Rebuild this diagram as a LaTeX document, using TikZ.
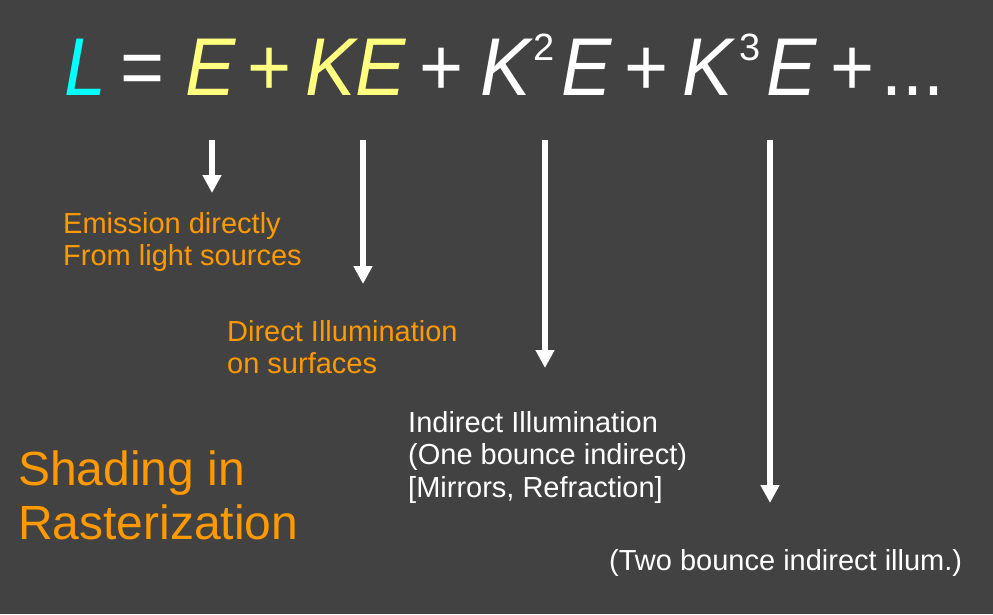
\documentclass[tikz,border=0pt]{standalone}
\usepackage{fontspec}
\setmainfont{Liberation Sans}
\usetikzlibrary{arrows.meta}
\definecolor{bgdark}{RGB}{66,66,66}
\definecolor{termcyan}{RGB}{0,255,255}
\definecolor{termyellow}{RGB}{255,255,128}
\definecolor{labelorange}{RGB}{255,153,0}
% equation glyphs are set slightly condensed
\newcommand{\eqglyph}[1]{\scalebox{0.92}[1]{#1}}
\begin{document}
\begin{tikzpicture}[x=1pt,y=-1pt,
  term/.style={anchor=base west,inner sep=0pt,font=\fontsize{82}{90}\selectfont\itshape},
  oper/.style={anchor=base west,inner sep=0pt,font=\fontsize{82}{90}\selectfont},
  power/.style={anchor=base west,inner sep=0pt,text=white,font=\fontsize{38}{42}\selectfont},
  note/.style={anchor=base west,inner sep=0pt,align=left,font=\fontsize{29}{32.5}\selectfont},
  bigtitle/.style={anchor=base west,inner sep=0pt,align=left,font=\fontsize{48}{54}\selectfont},
  downarrow/.style={white,line width=6pt,-{Triangle[width=18pt,length=18pt]}}]
  % background and page extent
  \fill[bgdark] (0,0) rectangle (993,614);
  \useasboundingbox (0,0) rectangle (993,614);

  % the rendering equation expanded as a series
  \node[term,text=termcyan]   (tL)   at (64,95)  {\eqglyph{L}};
  \node[oper,text=white]      (tEq)  at (120,95) {\eqglyph{=}};
  \node[term,text=termyellow] (tE1)  at (185,95) {\eqglyph{E}};
  \node[oper,text=termyellow] (tP1)  at (247,95) {\eqglyph{+}};
  \node[term,text=termyellow] (tKE)  at (305,95) {\eqglyph{KE}};
  \node[oper,text=white]      (tP2)  at (419,95) {\eqglyph{+}};
  \node[term,text=white]      (tK2)  at (480,95) {\eqglyph{K}};
  \node[power]                (tS2)  at (533,60) {2};
  \node[term,text=white]      (tE2)  at (561,95) {\eqglyph{E}};
  \node[oper,text=white]      (tP3)  at (624,95) {\eqglyph{+}};
  \node[term,text=white]      (tK3)  at (682,95) {\eqglyph{K}};
  \node[power]                (tS3)  at (739,60) {3};
  \node[term,text=white]      (tE3)  at (766,95) {\eqglyph{E}};
  \node[oper,text=white]      (tP4)  at (830,95) {\eqglyph{+}};
  \node[oper,text=white]      (tDots) at (881,95) {\eqglyph{...}};

  % labels for the individual terms (anchored at the last line)
  \node[note,text=labelorange] (lEmit) at (63,265.5)
    {Emission directly\\From light sources};
  \node[note,text=labelorange] (lDirect) at (227,373.5)
    {Direct Illumination\\on surfaces};
  \node[note,text=white] (lIndirect) at (408,497)
    {Indirect Illumination\\(One bounce indirect)\\{[Mirrors, Refraction]}};
  \node[note,text=white] (lTwo) at (609,570)
    {(Two bounce indirect illum.)};
  \node[bigtitle,text=labelorange] (lTitle) at (18,539)
    {Shading in\\Rasterization};

  % arrow end points
  \coordinate (a1s) at (212,140); \coordinate (a1e) at (212,193);
  \coordinate (a2s) at (363,140); \coordinate (a2e) at (363,284);
  \coordinate (a3s) at (545,140); \coordinate (a3e) at (545,368);
  \coordinate (a4s) at (770,140); \coordinate (a4e) at (770,503);

  \draw[downarrow] (a1s) -- (a1e);
  \draw[downarrow] (a2s) -- (a2e);
  \draw[downarrow] (a3s) -- (a3e);
  \draw[downarrow] (a4s) -- (a4e);
\end{tikzpicture}
\end{document}
